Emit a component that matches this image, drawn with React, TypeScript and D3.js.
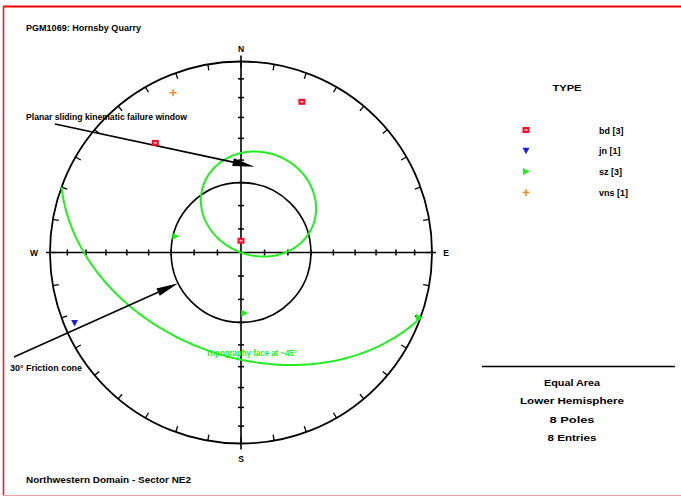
import React from "react";
import * as d3 from "d3";

// ---- data ----
const title = "PGM1069: Hornsby Quarry";
const footer = "Northwestern Domain - Sector NE2";
const poleTypes = ["bd", "jn", "sz", "vns"];
const typeCounts = [3, 1, 3, 1];
const bdPoles = [[22, 16], [322, 28], [0, 85]]; // [trend, plunge]
const jnPoles = [[247, 6]];
const szPoles = [[177, 64], [284, 61], [110, 1]];
const vnsPoles = [[337, 10]];
const slopeDip = 45;
const slopeDipDir = 200;
const frictionAngle = 30;
const axisTickAngles = [10, 20, 30, 40, 50, 60, 70, 80];
const azimuthTicks = d3.range(0, 360, 10);
const infoLines = ["Equal Area", "Lower Hemisphere", "8 Poles", "8 Entries"];
const infoWidths = [56, 104, 45, 49];
const compass = ["N", "E", "S", "W"];

const W = 681, H = 499;
const cx = 241, cy = 252.5, R = 191;
const rad = Math.PI / 180;
const rScale = d3.scaleLinear().domain([0, 1]).range([0, R]);

function projVec(x: number, y: number, z: number): [number, number] {
  const h = Math.sqrt(x * x + y * y);
  const r = rScale(Math.sqrt(Math.max(0, 1 - z)));
  if (h < 1e-9) return [cx, cy];
  return [cx + (r * x) / h, cy - (r * y) / h];
}
function proj(trend: number, plunge: number): [number, number] {
  const t = trend * rad, p = plunge * rad;
  return projVec(Math.cos(p) * Math.sin(t), Math.cos(p) * Math.cos(t), Math.sin(p));
}

const line = d3.line<[number, number]>().x((d) => d[0]).y((d) => d[1]).curve(d3.curveLinear);

const a = slopeDipDir * rad, dl = slopeDip * rad;
const s = [Math.sin(a - Math.PI / 2), Math.cos(a - Math.PI / 2), 0];
const dv = [Math.cos(dl) * Math.sin(a), Math.cos(dl) * Math.cos(a), Math.sin(dl)];
const phis = d3.range(0, 180.5, 1).map((p) => p * rad);
const gcPts: [number, number][] = [];
const envPts: [number, number][] = [];
phis.forEach((f) => {
  const v = [0, 1, 2].map((i) => Math.cos(f) * s[i] + Math.sin(f) * dv[i]);
  gcPts.push(projVec(v[0], v[1], v[2]));
  const h = Math.sqrt(v[0] * v[0] + v[1] * v[1]);
  const n = [(-v[2] * v[0]) / h, (-v[2] * v[1]) / h, h];
  envPts.push(projVec(n[0], n[1], n[2]));
});

const frictionR = rScale(Math.sqrt(1 - Math.cos(frictionAngle * rad)));

const RED = "#f0102a", BLUE = "#1a22d0", GREEN = "#22ee22", ORANGE = "#e8902a";
const FONT = "Liberation Sans, Arial, sans-serif";

function Marker({ type, x, y }: { type: string; x: number; y: number }) {
  if (type === "bd")
    return (
      <g>
        <rect x={x - 3.5} y={y - 3} width={7} height={6} fill={RED} />
        <rect x={x - 1.5} y={y - 0.8} width={3} height={1.6} fill="#ffc0c8" />
      </g>
    );
  if (type === "jn")
    return <path d={`M${x - 3.5},${y - 3}L${x + 3.5},${y - 3}L${x},${y + 3.5}Z`} fill={BLUE} />;
  if (type === "sz")
    return <path d={`M${x - 3},${y - 3.5}L${x + 4},${y}L${x - 3},${y + 3.5}Z`} fill={GREEN} />;
  return (
    <g stroke={ORANGE} strokeWidth={1.6}>
      <line x1={x - 3.5} y1={y} x2={x + 3.5} y2={y} />
      <line x1={x} y1={y - 3.5} x2={x} y2={y + 3.5} />
    </g>
  );
}

function Arrow({ x1, y1, x2, y2 }: { x1: number; y1: number; x2: number; y2: number }) {
  const ang = Math.atan2(y2 - y1, x2 - x1);
  const L = 22, w = 4;
  const bx = x2 - L * Math.cos(ang), by = y2 - L * Math.sin(ang);
  const px = -Math.sin(ang) * w, py = Math.cos(ang) * w;
  return (
    <g>
      <line x1={x1} y1={y1} x2={bx} y2={by} stroke="#000" strokeWidth={1.6} />
      <path d={`M${x2},${y2}L${bx + px},${by + py}L${bx - px},${by - py}Z`} fill="#000" />
    </g>
  );
}

export default function App() {
  const allPoles: { type: string; p: [number, number] }[] = [];
  bdPoles.forEach((d) => allPoles.push({ type: "bd", p: proj(d[0], d[1]) }));
  jnPoles.forEach((d) => allPoles.push({ type: "jn", p: proj(d[0], d[1]) }));
  szPoles.forEach((d) => allPoles.push({ type: "sz", p: proj(d[0], d[1]) }));
  vnsPoles.forEach((d) => allPoles.push({ type: "vns", p: proj(d[0], d[1]) }));

  const planarTarget = proj(9, 52.5);
  const fricTarget: [number, number] = [
    cx + frictionR * Math.sin(244 * rad),
    cy - frictionR * Math.cos(244 * rad),
  ];

  const axisDirs = [0, 90, 180, 270];
  return (
    <svg width={W} height={H} style={{ position: "absolute", left: 0, top: 0, background: "#fff" }} fontFamily={FONT} fontWeight="bold">
      <rect x={0} y={0} width={W} height={H} fill="#fff" />
      <line x1={3} y1={6.5} x2={W} y2={6.5} stroke="#ff0000" strokeWidth={2.2} />
      <line x1={3.5} y1={6} x2={3.5} y2={496} stroke="#e82030" strokeWidth={1.6} />
      <line x1={3} y1={495.5} x2={W} y2={495.5} stroke="#f4a0a8" strokeWidth={1.2} />

      <text x={26} y={31} fontSize={9.5} textLength={115} lengthAdjust="spacingAndGlyphs" fill="#000">{title}</text>
      <text x={26} y={483} fontSize={9.5} textLength={165} lengthAdjust="spacingAndGlyphs" fill="#000">{footer}</text>

      <circle cx={cx} cy={cy} r={R} fill="none" stroke="#000" strokeWidth={1.8} />
      <circle cx={cx} cy={cy} r={frictionR} fill="none" stroke="#000" strokeWidth={1.6} />

      {azimuthTicks.map((az) => {
        const sn = Math.sin(az * rad), cs = Math.cos(az * rad);
        return (
          <line key={az} x1={cx + R * sn} y1={cy - R * cs} x2={cx + (R - 6) * sn} y2={cy - (R - 6) * cs} stroke="#000" strokeWidth={1.3} />
        );
      })}

      <line x1={cx - R - 4} y1={cy} x2={cx + R + 4} y2={cy} stroke="#000" strokeWidth={1.6} />
      <line x1={cx} y1={cy - R - 6} x2={cx} y2={cy + R + 6} stroke="#000" strokeWidth={1.6} />
      {axisDirs.map((dir) =>
        axisTickAngles.map((t) => {
          const r = rScale(Math.sqrt(1 - Math.cos(t * rad)));
          const sn = Math.sin(dir * rad), cs = Math.cos(dir * rad);
          const x = cx + r * sn, y = cy - r * cs;
          const px = cs * 3, py = sn * 3;
          return <line key={`${dir}-${t}`} x1={x - px} y1={y - py} x2={x + px} y2={y + py} stroke="#000" strokeWidth={1.5} />;
        })
      )}
      {compass.map((c, i) => {
        const az = i * 90;
        const off = R + 12;
        const x = cx + off * Math.sin(az * rad) + (i === 3 ? -4 : i === 1 ? 2 : 0);
        const y = cy - (R + (i === 0 ? 13 : 10)) * Math.cos(az * rad) + 3.5;
        return <text key={c} x={x} y={i === 2 ? y + 5 : y} fontSize={8.5} textAnchor="middle">{c}</text>;
      })}

      <path d={line(gcPts) || ""} fill="none" stroke={GREEN} strokeWidth={2} />
      <path d={line(envPts) || ""} fill="none" stroke={GREEN} strokeWidth={2} />
      <text x={206} y={356} fontSize={8.5} fill={GREEN} textLength={91} lengthAdjust="spacingAndGlyphs">Topography face at ~45°</text>

      <text x={26} y={120} fontSize={9} textLength={161} lengthAdjust="spacingAndGlyphs">Planar sliding kinematic failure window</text>
      <Arrow x1={55} y1={124} x2={planarTarget[0]} y2={planarTarget[1]} />
      <text x={10} y={371} fontSize={9} textLength={72} lengthAdjust="spacingAndGlyphs">30° Friction cone</text>
      <Arrow x1={14} y1={357} x2={fricTarget[0]} y2={fricTarget[1]} />

      {allPoles.map((d, i) => (
        <Marker key={i} type={d.type} x={d.p[0]} y={d.p[1]} />
      ))}

      <text x={567} y={91} fontSize={9.5} textAnchor="middle" textLength={29} lengthAdjust="spacingAndGlyphs">TYPE</text>
      {poleTypes.map((t, i) => (
        <g key={t}>
          <Marker type={t} x={526} y={130 + i * 20.8} />
          <text x={599} y={133.5 + i * 20.8} fontSize={9}>{`${t} [${typeCounts[i]}]`}</text>
        </g>
      ))}

      <line x1={482} y1={366.5} x2={675} y2={366.5} stroke="#000" strokeWidth={1.6} />
      {infoLines.map((l, i) => (
        <text key={l} x={572} y={385.5 + i * 18.5} fontSize={9} textAnchor="middle" textLength={infoWidths[i]} lengthAdjust="spacingAndGlyphs">{l}</text>
      ))}
    </svg>
  );
}
